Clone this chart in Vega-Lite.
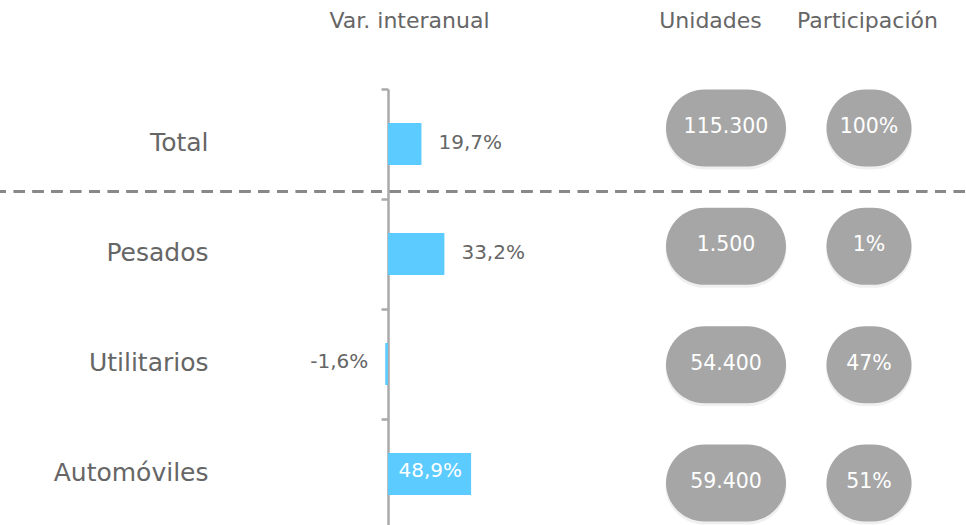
{
  "$schema": "https://vega.github.io/schema/vega-lite/v6.json",
  "width": 966,
  "height": 525,
  "padding": 0,
  "autosize": {"type": "none"},
  "background": "white",
  "config": {
    "view": {"stroke": null},
    "font": "DejaVu Sans",
    "locale": {"number": {"decimal": ",", "thousands": ".", "grouping": [3], "currency": ["$", ""], "minus": "-"}}
  },
  "data": {
    "values": [
      {"cat": "Total", "var": 0.197, "unidades": 115300, "part": 1.0},
      {"cat": "Pesados", "var": 0.332, "unidades": 1500, "part": 0.01},
      {"cat": "Utilitarios", "var": -0.016, "unidades": 54400, "part": 0.47},
      {"cat": "Automóviles", "var": 0.489, "unidades": 59400, "part": 0.51}
    ]
  },
  "layer": [
    {
      "encoding": {
        "y": {
          "field": "cat", "type": "nominal",
          "sort": ["Total", "Pesados", "Utilitarios", "Automóviles"],
          "scale": {"type": "band", "domain": ["Total", "Pesados", "Utilitarios", "Automóviles"], "range": [89, 529], "paddingInner": 0, "paddingOuter": 0},
          "axis": {
            "orient": "left", "offset": -388, "title": null,
            "domainColor": "#aaaaaa", "domainWidth": 2.5,
            "tickColor": "#aaaaaa", "tickWidth": 2.5, "tickSize": 7, "tickBand": "extent",
            "labelPadding": 173, "labelFontSize": 25, "labelColor": "#666666", "labelFont": "DejaVu Sans",
            "labelOffset": -2
          }
        }
      },
      "layer": [
        {
          "mark": {"type": "rule", "color": "#888888", "strokeWidth": 2.7, "strokeDash": [11, 7.8], "strokeDashOffset": 17.6},
          "encoding": {
            "y": {"datum": "Total", "bandPosition": 0.93}
          }
        },
        {
          "mark": {"type": "bar", "color": "#5ccbff", "height": {"band": 0.38}},
          "encoding": {
            "x": {
              "field": "var", "type": "quantitative",
              "scale": {"domain": [-2.282, 3.4], "nice": false, "zero": false},
              "axis": {
                "orient": "top", "offset": -27, "domain": false, "ticks": false, "labels": false, "grid": false,
                "title": "Var. interanual", "titleX": 409, "titleY": 0, "titleBaseline": "alphabetic",
                "titleFontSize": 22, "titleFontWeight": "normal", "titleColor": "#666666", "titleFont": "DejaVu Sans"
              }
            },
            "x2": {"datum": 0},
            "y": {"field": "cat", "type": "nominal"}
          }
        },
        {
          "transform": [{"filter": "datum.var > 0 && datum.var < 0.4"}],
          "mark": {"type": "text", "align": "left", "baseline": "middle", "dx": 17, "dy": -1, "fontSize": 20, "color": "#666666"},
          "encoding": {
            "x": {"field": "var", "type": "quantitative"},
            "y": {"field": "cat", "type": "nominal"},
            "text": {"field": "var", "type": "quantitative", "format": ".1%"}
          }
        },
        {
          "transform": [{"filter": "datum.var >= 0.4"}],
          "mark": {"type": "text", "align": "right", "baseline": "middle", "dx": -9, "dy": -3, "fontSize": 20, "color": "#ffffff"},
          "encoding": {
            "x": {"field": "var", "type": "quantitative"},
            "y": {"field": "cat", "type": "nominal"},
            "text": {"field": "var", "type": "quantitative", "format": ".1%"}
          }
        },
        {
          "transform": [{"filter": "datum.var < 0"}],
          "mark": {"type": "text", "align": "right", "baseline": "middle", "dx": -17, "dy": -2, "fontSize": 20, "color": "#666666"},
          "encoding": {
            "x": {"field": "var", "type": "quantitative"},
            "y": {"field": "cat", "type": "nominal"},
            "text": {"field": "var", "type": "quantitative", "format": ".1%"}
          }
        }
      ]
    },
    {
      "encoding": {
        "y": {
          "field": "cat", "type": "nominal",
          "scale": {"type": "point", "domain": ["Total", "Pesados", "Utilitarios", "Automóviles"], "range": [128, 483], "padding": 0},
          "axis": null
        }
      },
      "layer": [
        {
          "mark": {"type": "rect", "width": 121, "height": 77, "cornerRadius": 38.5, "color": "#000000", "opacity": 0.06, "yOffset": 3},
          "encoding": {
            "x": {
              "datum": "Unidades", "type": "nominal",
              "scale": {"type": "point", "domain": ["Unidades", "Participación"], "range": [726, 869], "padding": 0},
              "axis": {
                "orient": "top", "offset": -27, "domain": false, "ticks": false, "tickSize": 0, "grid": false,
                "labelPadding": 0, "labelBaseline": "alphabetic", "labelFontSize": 22, "labelColor": "#666666", "labelFont": "DejaVu Sans",
                "labelOffset": {"condition": {"test": "datum.value === 'Unidades'", "value": -16}, "value": -2},
                "labelAngle": 0, "title": null
              }
            }
          }
        },
        {
          "mark": {"type": "rect", "width": 86, "height": 77, "cornerRadius": 38.5, "color": "#000000", "opacity": 0.06, "yOffset": 3},
          "encoding": {"x": {"datum": "Participación", "type": "nominal"}}
        },
        {
          "mark": {"type": "rect", "width": 120, "height": 77, "cornerRadius": 38.5, "color": "#a6a6a6"},
          "encoding": {"x": {"datum": "Unidades", "type": "nominal"}}
        },
        {
          "mark": {"type": "rect", "width": 85, "height": 77, "cornerRadius": 38.5, "color": "#a6a6a6"},
          "encoding": {"x": {"datum": "Participación", "type": "nominal"}}
        },
        {
          "mark": {"type": "text", "baseline": "middle", "align": "center", "fontSize": 20.5, "color": "#ffffff", "dy": -1},
          "encoding": {
            "x": {"datum": "Unidades", "type": "nominal"},
            "text": {"field": "unidades", "type": "quantitative", "format": ",.0f"}
          }
        },
        {
          "mark": {"type": "text", "baseline": "middle", "align": "center", "fontSize": 20.5, "color": "#ffffff", "dy": -1},
          "encoding": {
            "x": {"datum": "Participación", "type": "nominal"},
            "text": {"field": "part", "type": "quantitative", "format": ".0%"}
          }
        }
      ]
    }
  ],
  "resolve": {"scale": {"x": "independent", "y": "independent"}, "axis": {"x": "independent", "y": "independent"}}
}
